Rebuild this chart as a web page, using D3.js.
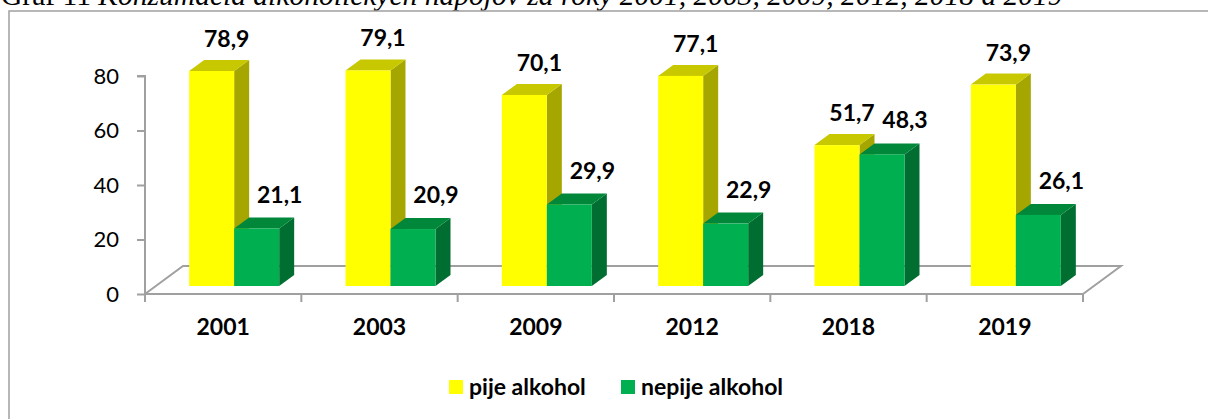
<!DOCTYPE html>
<html>
<head>
<meta charset="utf-8">
<script src="https://cdn.jsdelivr.net/npm/d3@7"></script>
<style>
  body { margin: 0; background: #fff; }
  svg { display: block; }
</style>
</head>
<body>
<div id="chart"></div>
<script>
// data
const years = ["2001", "2003", "2009", "2012", "2018", "2019"];
const pije = [78.9, 79.1, 70.1, 77.1, 51.7, 73.9];
const nepije = [21.1, 20.9, 29.9, 22.9, 48.3, 26.1];
const yTicks = [0, 20, 40, 60, 80];
const seriesNames = ["pije alkohol", "nepije alkohol"];
const titleStart = "Graf 11 ";
const titleRest = "Konzumácia alkoholických nápojov za roky 2001, 2003, 2009, 2012, 2018 a 2019";

const W = 1208, H = 419;
const colors = {
  pije: {front: "#FFFF00", top: "#C8C800", side: "#A6A600"},
  nepije: {front: "#00B050", top: "#00873A", side: "#006E30"}
};
const axisColor = "#A0A0A0";
const sans = "Lato, 'Open Sans', sans-serif";

const svg = d3.select("#chart").append("svg")
  .attr("width", W).attr("height", H);

// title, cut at the top of the picture as in the source
const title = svg.append("text")
  .attr("x", 1).attr("y", 4.5)
  .attr("font-family", "'Liberation Serif', 'Times New Roman', serif")
  .attr("font-size", 26)
  .attr("fill", "#000");
title.append("tspan").text(titleStart);
title.append("tspan").attr("font-style", "italic").text(titleRest);
// fit the title to the width it has in the picture
const tw = title.node().getComputedTextLength();
title.attr("font-size", 26 * 1062 / tw);

// chart border
svg.append("rect")
  .attr("x", 9).attr("y", 11)
  .attr("width", 1220).attr("height", 430)
  .attr("fill", "none")
  .attr("stroke", axisColor)
  .attr("stroke-width", 1.5);

// scales
const x = d3.scaleBand().domain(years).range([145, 1083]);
const y = d3.scaleLinear().domain([0, 80]).range([294, 76]);
const floorD = {dx: 38, dy: -28};     // depth of the floor
const barOff = {dx: 11, dy: -8};      // where the bar sits in depth
const barD = {dx: 15, dy: -11};       // depth of a bar
const barW = 45;

// floor
const y0 = y(0);
const floor = svg.append("g")
  .attr("fill", "none")
  .attr("stroke", axisColor)
  .attr("stroke-width", 2);
floor.append("path").attr("d", d3.line()([
  [145, y0], [145 + floorD.dx, y0 + floorD.dy],
  [1083 + floorD.dx, y0 + floorD.dy], [1083, y0]
]));

// y axis
const yAxis = svg.append("g")
  .attr("transform", "translate(145,0)")
  .call(d3.axisLeft(y).tickValues(yTicks).tickSize(8).tickPadding(18));
yAxis.select(".domain").attr("stroke", axisColor).attr("stroke-width", 2)
  .attr("d", `M-8,${y(80)}H0V${y0}`);
yAxis.selectAll(".tick line").attr("stroke", axisColor).attr("stroke-width", 2);
yAxis.selectAll(".tick text")
  .attr("font-family", sans).attr("font-size", 22).attr("fill", "#000");

// x axis on the front edge of the floor
const xAxis = svg.append("g")
  .attr("transform", `translate(0,${y0})`)
  .call(d3.axisBottom(x).tickSize(0).tickPadding(25));
xAxis.select(".domain").attr("stroke", axisColor).attr("stroke-width", 2)
  .attr("d", "M145,0H1083");
xAxis.selectAll(".tick text")
  .attr("font-family", sans).attr("font-size", 23).attr("font-weight", "bold")
  .attr("fill", "#000");
// ticks between categories
xAxis.selectAll(".sep")
  .data(d3.range(years.length + 1))
  .join("line")
  .attr("x1", i => 145 + i * x.step()).attr("x2", i => 145 + i * x.step())
  .attr("y1", 0).attr("y2", 8)
  .attr("stroke", axisColor).attr("stroke-width", 2);

// 3D bars
const bars = [];
years.forEach((yr, i) => {
  const cx = x(yr) + x.bandwidth() / 2 + barOff.dx;
  bars.push({key: "pije", v: pije[i], x0: cx - barW, i});
  bars.push({key: "nepije", v: nepije[i], x0: cx, i});
});
const base = y0 + barOff.dy;
const hUnit = y(0) - y(1);

const bg = svg.append("g");
bars.forEach(b => {
  const top = base - b.v * hUnit;
  const x0 = b.x0, x1 = b.x0 + barW;
  const c = colors[b.key];
  const g = bg.append("g");
  // side
  g.append("path").attr("fill", c.side).attr("d", d3.line()([
    [x1, base], [x1, top], [x1 + barD.dx, top + barD.dy], [x1 + barD.dx, base + barD.dy]
  ]) + "Z");
  // top
  g.append("path").attr("fill", c.top).attr("d", d3.line()([
    [x0, top], [x0 + barD.dx, top + barD.dy], [x1 + barD.dx, top + barD.dy], [x1, top]
  ]) + "Z");
  // front
  g.append("rect").attr("fill", c.front)
    .attr("x", x0).attr("y", top)
    .attr("width", barW).attr("height", base - top);
});

// value labels
const fmt = v => d3.format(".1f")(v).replace(".", ",");
svg.append("g").selectAll("text")
  .data(bars)
  .join("text")
  .attr("x", b => b.x0 + barW / 2 + (b.key === "pije" ? 15 : 23))
  .attr("y", b => base - b.v * hUnit + barD.dy - (b.key === "pije" ? 13 : 15))
  .attr("text-anchor", "middle")
  .attr("font-family", sans).attr("font-size", 23).attr("font-weight", "bold")
  .attr("fill", "#000")
  .text(b => fmt(b.v));

// legend
const legendX = [449, 621];
const legend = svg.append("g");
seriesNames.forEach((name, i) => {
  const key = i === 0 ? "pije" : "nepije";
  legend.append("rect")
    .attr("x", legendX[i]).attr("y", 380)
    .attr("width", 14).attr("height", 14)
    .attr("fill", colors[key].front);
  legend.append("text")
    .attr("x", legendX[i] + 20).attr("y", 395)
    .attr("font-family", sans).attr("font-size", 23).attr("font-weight", "bold")
    .attr("fill", "#000")
    .text(name);
});
</script>
</body>
</html>
